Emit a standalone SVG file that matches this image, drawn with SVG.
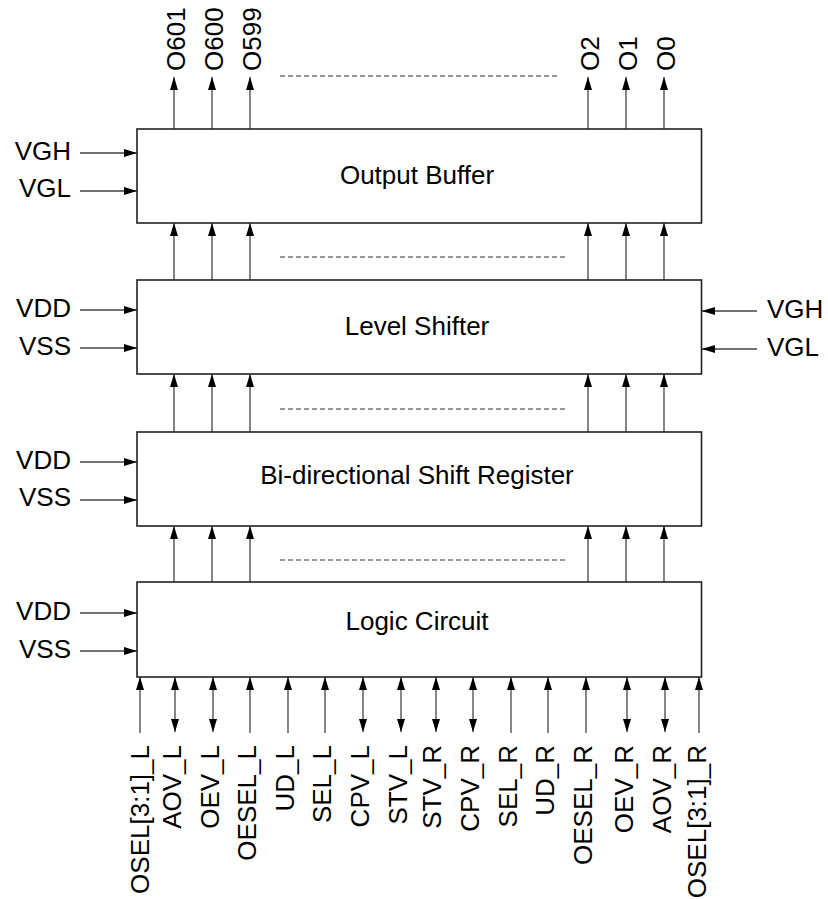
<svg xmlns="http://www.w3.org/2000/svg" width="828" height="899" viewBox="0 0 828 899">
<style>
text{font-family:"Liberation Sans",Arial,sans-serif;font-size:26px;fill:#000}
.box{fill:#fff;stroke:#222;stroke-width:1.6}
line{stroke:#444;stroke-width:1.3;fill:none}
.ar{marker-end:url(#ah)}
.bi{marker-start:url(#ah);marker-end:url(#ah)}
.dash{stroke:#777;stroke-width:1.5;stroke-dasharray:5 3;fill:none}
.ctr{text-anchor:middle}
.end{text-anchor:end}
</style>
<defs>
<marker id="ah" markerUnits="userSpaceOnUse" markerWidth="13" markerHeight="8" refX="13" refY="4" orient="auto-start-reverse">
<path d="M0,0 L13,4 L0,8 z" fill="#000"/>
</marker>
</defs>
<rect width="828" height="899" fill="#fff"/>
<g id="connectors">
<line class="ar" x1="174" y1="129" x2="174" y2="77"/>
<line class="ar" x1="212" y1="129" x2="212" y2="77"/>
<line class="ar" x1="250" y1="129" x2="250" y2="77"/>
<line class="ar" x1="588" y1="129" x2="588" y2="77"/>
<line class="ar" x1="626" y1="129" x2="626" y2="77"/>
<line class="ar" x1="664" y1="129" x2="664" y2="77"/>
<line class="ar" x1="174" y1="280" x2="174" y2="223"/>
<line class="ar" x1="212" y1="280" x2="212" y2="223"/>
<line class="ar" x1="250" y1="280" x2="250" y2="223"/>
<line class="ar" x1="588" y1="280" x2="588" y2="223"/>
<line class="ar" x1="626" y1="280" x2="626" y2="223"/>
<line class="ar" x1="664" y1="280" x2="664" y2="223"/>
<line class="ar" x1="174" y1="432" x2="174" y2="374"/>
<line class="ar" x1="212" y1="432" x2="212" y2="374"/>
<line class="ar" x1="250" y1="432" x2="250" y2="374"/>
<line class="ar" x1="588" y1="432" x2="588" y2="374"/>
<line class="ar" x1="626" y1="432" x2="626" y2="374"/>
<line class="ar" x1="664" y1="432" x2="664" y2="374"/>
<line class="ar" x1="174" y1="582" x2="174" y2="526"/>
<line class="ar" x1="212" y1="582" x2="212" y2="526"/>
<line class="ar" x1="250" y1="582" x2="250" y2="526"/>
<line class="ar" x1="588" y1="582" x2="588" y2="526"/>
<line class="ar" x1="626" y1="582" x2="626" y2="526"/>
<line class="ar" x1="664" y1="582" x2="664" y2="526"/>
<line class="ar" x1="80" y1="153" x2="137" y2="153"/>
<line class="ar" x1="80" y1="191" x2="137" y2="191"/>
<line class="ar" x1="80" y1="310" x2="137" y2="310"/>
<line class="ar" x1="80" y1="348" x2="137" y2="348"/>
<line class="ar" x1="80" y1="462" x2="137" y2="462"/>
<line class="ar" x1="80" y1="500" x2="137" y2="500"/>
<line class="ar" x1="80" y1="613" x2="137" y2="613"/>
<line class="ar" x1="80" y1="651" x2="137" y2="651"/>
<line class="ar" x1="757" y1="311" x2="702" y2="311"/>
<line class="ar" x1="757" y1="349" x2="702" y2="349"/>
<line class="ar" x1="140" y1="733" x2="140" y2="677"/>
<line class="bi" x1="175" y1="732" x2="175" y2="677"/>
<line class="bi" x1="213" y1="732" x2="213" y2="677"/>
<line class="ar" x1="250" y1="733" x2="250" y2="677"/>
<line class="ar" x1="288" y1="733" x2="288" y2="677"/>
<line class="ar" x1="325" y1="733" x2="325" y2="677"/>
<line class="bi" x1="363" y1="732" x2="363" y2="677"/>
<line class="bi" x1="401" y1="732" x2="401" y2="677"/>
<line class="bi" x1="436" y1="732" x2="436" y2="677"/>
<line class="bi" x1="473" y1="732" x2="473" y2="677"/>
<line class="ar" x1="511" y1="733" x2="511" y2="677"/>
<line class="ar" x1="548" y1="733" x2="548" y2="677"/>
<line class="ar" x1="586" y1="733" x2="586" y2="677"/>
<line class="bi" x1="627" y1="732" x2="627" y2="677"/>
<line class="bi" x1="665" y1="732" x2="665" y2="677"/>
<line class="ar" x1="699" y1="733" x2="699" y2="677"/>
<path class="dash" d="M280,76 H558"/>
<path class="dash" d="M280,257 H565"/>
<path class="dash" d="M280,409 H565"/>
<path class="dash" d="M280,560 H565"/>
</g>
<g id="output-buffer">
<rect class="box" x="137" y="129" width="564.5" height="94"/>
<text class="ctr" x="417" y="184">Output Buffer</text>
</g>
<g id="level-shifter">
<rect class="box" x="137" y="280" width="564.5" height="94"/>
<text class="ctr" x="417" y="335">Level Shifter</text>
</g>
<g id="shift-register">
<rect class="box" x="137" y="432" width="564.5" height="94"/>
<text class="ctr" x="417" y="484">Bi-directional Shift Register</text>
</g>
<g id="logic-circuit">
<rect class="box" x="137" y="582" width="564.5" height="95"/>
<text class="ctr" x="417" y="630">Logic Circuit</text>
</g>
<g id="top-labels">
<text transform="translate(184.5,71) rotate(-90)">O601</text>
<text transform="translate(222.5,71) rotate(-90)">O600</text>
<text transform="translate(260.5,71) rotate(-90)">O599</text>
<text transform="translate(598.5,71) rotate(-90)">O2</text>
<text transform="translate(636.5,71) rotate(-90)">O1</text>
<text transform="translate(674.5,71) rotate(-90)">O0</text>
</g>
<g id="side-labels">
<text class="end" x="71" y="160">VGH</text>
<text class="end" x="71" y="197">VGL</text>
<text class="end" x="71" y="317">VDD</text>
<text class="end" x="71" y="355">VSS</text>
<text class="end" x="71" y="469">VDD</text>
<text class="end" x="71" y="506">VSS</text>
<text class="end" x="71" y="620">VDD</text>
<text class="end" x="71" y="658">VSS</text>
<text x="767" y="318">VGH</text>
<text x="767" y="356">VGL</text>
</g>
<g id="bottom-labels">
<text class="end" transform="translate(149,745) rotate(-90)">OSEL[3:1]_L</text>
<text class="end" transform="translate(181,745) rotate(-90)">AOV_L</text>
<text class="end" transform="translate(219,745) rotate(-90)">OEV_L</text>
<text class="end" transform="translate(256,745) rotate(-90)">OESEL_L</text>
<text class="end" transform="translate(294,745) rotate(-90)">UD_L</text>
<text class="end" transform="translate(331,745) rotate(-90)">SEL_L</text>
<text class="end" transform="translate(369,745) rotate(-90)">CPV_L</text>
<text class="end" transform="translate(407,745) rotate(-90)">STV_L</text>
<text class="end" transform="translate(441,745) rotate(-90)">STV_R</text>
<text class="end" transform="translate(479,745) rotate(-90)">CPV_R</text>
<text class="end" transform="translate(517,745) rotate(-90)">SEL_R</text>
<text class="end" transform="translate(554,745) rotate(-90)">UD_R</text>
<text class="end" transform="translate(592,745) rotate(-90)">OESEL_R</text>
<text class="end" transform="translate(633,745) rotate(-90)">OEV_R</text>
<text class="end" transform="translate(671,745) rotate(-90)">AOV_R</text>
<text class="end" transform="translate(706,745) rotate(-90)">OSEL[3:1]_R</text>
</g>
</svg>
